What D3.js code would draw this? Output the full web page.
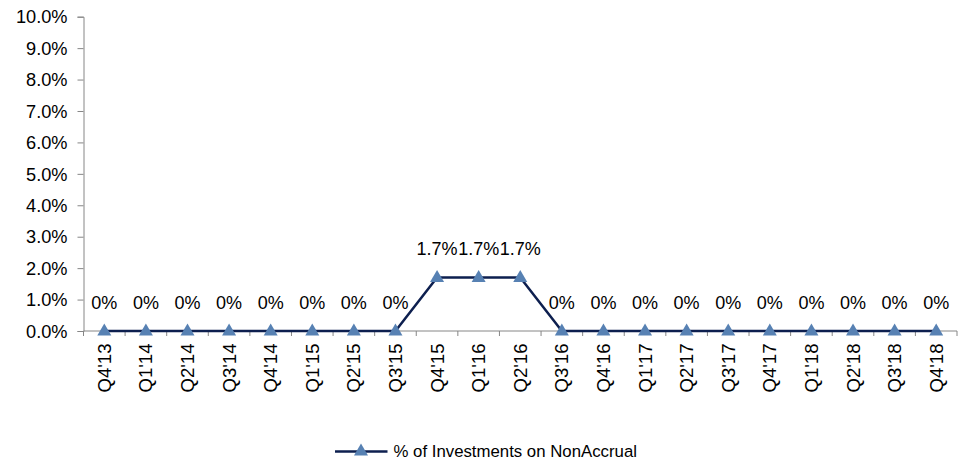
<!DOCTYPE html>
<html>
<head>
<meta charset="utf-8">
<script src="https://cdn.jsdelivr.net/npm/d3@7"></script>
<style>
  html, body { margin: 0; padding: 0; background: #fff; }
  svg { display: block; font-family: "Liberation Sans", Arial, sans-serif; }
</style>
</head>
<body>
<svg id="chart" width="966" height="462"></svg>
<script>
const categories = ["Q4'13","Q1'14","Q2'14","Q3'14","Q4'14","Q1'15","Q2'15","Q3'15","Q4'15","Q1'16","Q2'16","Q3'16","Q4'16","Q1'17","Q2'17","Q3'17","Q4'17","Q1'18","Q2'18","Q3'18","Q4'18"];
const values = [0,0,0,0,0,0,0,0,1.7,1.7,1.7,0,0,0,0,0,0,0,0,0,0];
const valueLabels = ["0%","0%","0%","0%","0%","0%","0%","0%","1.7%","1.7%","1.7%","0%","0%","0%","0%","0%","0%","0%","0%","0%","0%"];
const yTicks = [0,1,2,3,4,5,6,7,8,9,10];
const seriesName = "% of Investments on NonAccrual";

(function () {
const svg = d3.select("#chart");
const mLeft = 83.5, mRight = 957, mTop = 16.7, mBottom = 331;
const axisColor = "#868686";
const lineColor = "#0d1f4f";
const markerColor = "#5781b3";
const fontFam = "'Liberation Sans', Arial, sans-serif";

const x = d3.scaleBand().domain(categories).range([mLeft, mRight]).padding(0);
const y = d3.scaleLinear().domain([0, 10]).range([mBottom, mTop]);

// Y axis
const yAxis = d3.axisLeft(y).tickValues(yTicks).tickSize(6).tickPadding(10)
  .tickFormat(d => d3.format(".1f")(d) + "%");
const gy = svg.append("g").attr("transform", `translate(${mLeft},0)`).call(yAxis);
gy.attr("font-size", null).attr("font-family", null);
gy.select(".domain").attr("stroke", axisColor).attr("stroke-width", 1);
gy.selectAll(".tick line").attr("stroke", axisColor);
gy.selectAll(".tick text").attr("fill", "#000").attr("dy", "0.34em")
  .style("font-size", "18.2px").style("font-family", fontFam);

// X axis with ticks at category boundaries
const gx = svg.append("g").attr("transform", `translate(0,${mBottom})`);
gx.append("line").attr("x1", mLeft).attr("x2", mRight).attr("y1", 0).attr("y2", 0)
  .attr("stroke", axisColor).attr("stroke-width", 1);
const boundaries = categories.map(c => x(c)).concat([x(categories[categories.length - 1]) + x.bandwidth()]);
gx.selectAll("line.tk").data(boundaries).enter().append("line")
  .attr("class", "tk")
  .attr("x1", d => d).attr("x2", d => d).attr("y1", 0).attr("y2", 5)
  .attr("stroke", axisColor);
gx.selectAll("text.lbl").data(categories).enter().append("text")
  .attr("class", "lbl")
  .attr("transform", d => `translate(${x(d) + x.bandwidth() / 2},${12.5}) rotate(-90)`)
  .attr("text-anchor", "end")
  .attr("dy", "0.35em")
  .attr("fill", "#000")
  .style("font-size", "18.6px")
  .style("font-family", fontFam)
  .text(d => d);

// Line
const cx = d => x(d) + x.bandwidth() / 2;
const line = d3.line().x((d, i) => cx(categories[i])).y(d => y(d));
svg.append("path").datum(values)
  .attr("d", line)
  .attr("fill", "none")
  .attr("stroke", lineColor)
  .attr("stroke-width", 2.5)
  .attr("stroke-linejoin", "miter");

// Markers
const tri = d3.symbol().type(d3.symbolTriangle).size(85);
svg.selectAll("path.mk").data(values).enter().append("path")
  .attr("class", "mk")
  .attr("d", tri)
  .attr("transform", (d, i) => `translate(${cx(categories[i])},${y(d) + 0.5})`)
  .attr("fill", markerColor);

// Data labels
svg.selectAll("text.dl").data(values).enter().append("text")
  .attr("class", "dl")
  .attr("x", (d, i) => cx(categories[i]))
  .attr("y", d => y(d) - 22.3)
  .attr("text-anchor", "middle")
  .attr("fill", "#000")
  .style("font-size", "18px")
  .style("font-family", fontFam)
  .text((d, i) => valueLabels[i]);

// Legend
const lg = svg.append("g").attr("transform", "translate(335,451.5)");
lg.append("line").attr("x1", 0).attr("x2", 52.5).attr("y1", 0).attr("y2", 0)
  .attr("stroke", lineColor).attr("stroke-width", 2.5);
lg.append("path").attr("d", tri).attr("transform", "translate(26,0)").attr("fill", markerColor);
lg.append("text").attr("x", 58.5).attr("y", 0).attr("dy", "0.35em")
  .attr("fill", "#000").style("font-size", "16.8px").style("font-family", fontFam)
  .text(seriesName);
})();
</script>
</body>
</html>
